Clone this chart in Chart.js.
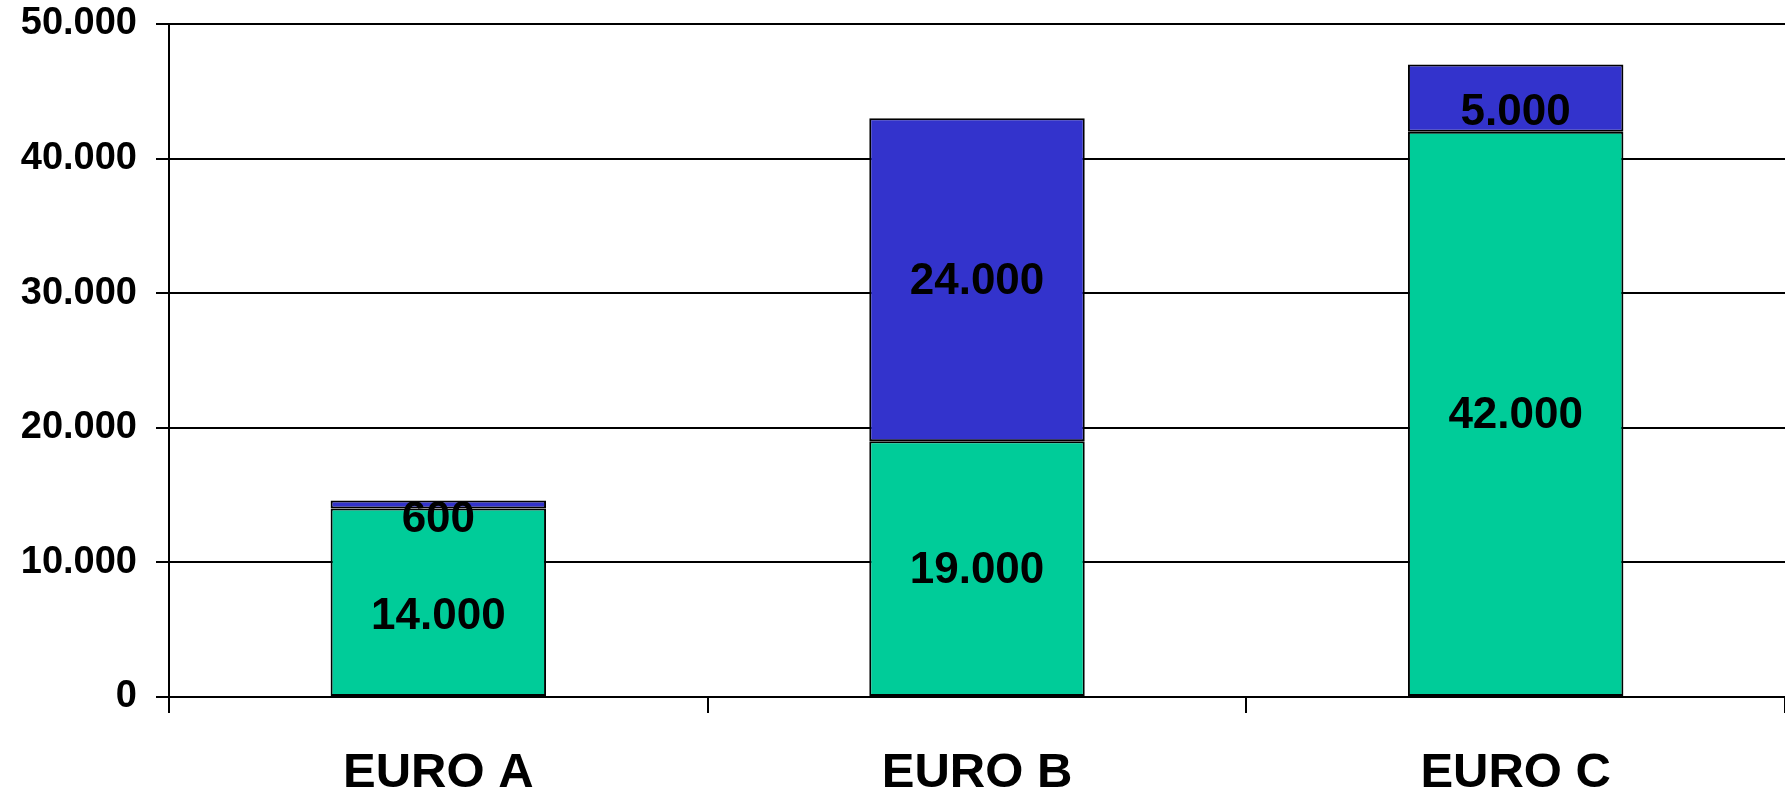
<!DOCTYPE html>
<html lang="de">
<head>
    <meta charset="UTF-8">
    <title>EURO A / B / C</title>
    <script src="https://cdn.jsdelivr.net/npm/chart.js"></script>
    <style>
        body {
            margin: 0;
            background-color: #ffffff;
        }
        canvas {
            display: block;
        }
    </style>
</head>
<body>
    <canvas id="euroChart" width="1785" height="795"></canvas>

    <script>
        // Daten
        const categories = ['EURO A', 'EURO B', 'EURO C'];
        const baseValues = [14000, 19000, 42000];
        const topValues = [600, 24000, 5000];
        const yTicks = [0, 10000, 20000, 30000, 40000, 50000];

        function formatNumber(v) {
            return String(v).replace(/\B(?=(\d{3})+(?!\d))/g, '.');
        }

        // Werte in die Balken schreiben
        const barLabels = {
            id: 'barLabels',
            afterDatasetsDraw(chart) {
                const ctx = chart.ctx;
                ctx.save();
                ctx.font = 'bold 44px "Liberation Sans", Arial, sans-serif';
                ctx.fillStyle = '#000000';
                ctx.textAlign = 'center';
                ctx.textBaseline = 'middle';
                chart.data.datasets.forEach(function(ds, i) {
                    const meta = chart.getDatasetMeta(i);
                    meta.data.forEach(function(bar, j) {
                        const h = bar.base - bar.y;
                        let y = (bar.y + bar.base) / 2;
                        if (h < 200) y += 13;
                        ctx.fillText(formatNumber(ds.data[j]), bar.x, y + 2);
                    });
                });
                ctx.restore();
            }
        };

        const ctx = document.getElementById('euroChart').getContext('2d');
        const chartInstance = new Chart(ctx, {
            type: 'bar',
            data: {
                labels: categories,
                datasets: [{
                    data: baseValues,
                    backgroundColor: '#00CC99',
                    borderColor: '#000000',
                    borderWidth: 2,
                    borderSkipped: false,
                    categoryPercentage: 1,
                    barPercentage: 0.4
                }, {
                    data: topValues,
                    backgroundColor: '#3333CC',
                    borderColor: '#000000',
                    borderWidth: 2,
                    borderSkipped: false,
                    categoryPercentage: 1,
                    barPercentage: 0.4
                }]
            },
            options: {
                responsive: false,
                animation: false,
                layout: {
                    padding: { top: 24, right: 0, left: 0, bottom: 0 }
                },
                plugins: {
                    legend: false,
                    tooltip: { enabled: false }
                },
                scales: {
                    x: {
                        stacked: true,
                        offset: true,
                        afterFit: function(scale) {
                            scale.height = 98;
                            scale.paddingLeft = 0;
                            scale.paddingRight = 0;
                        },
                        grid: {
                            offset: true,
                            drawOnChartArea: false,
                            drawTicks: true,
                            tickLength: 16,
                            color: '#000000',
                            lineWidth: 2
                        },
                        border: { display: true, color: '#000000', width: 2 },
                        ticks: {
                            color: '#000000',
                            padding: 31,
                            font: { family: '"Liberation Sans", Arial, sans-serif', size: 49, weight: 'bold' }
                        }
                    },
                    y: {
                        stacked: true,
                        min: 0,
                        max: 50000,
                        afterFit: function(scale) {
                            scale.width = 169;
                            scale.paddingTop = 0;
                            scale.paddingBottom = 0;
                        },
                        afterBuildTicks: function(scale) {
                            scale.ticks = yTicks.map(function(v) { return { value: v }; });
                        },
                        grid: {
                            color: '#000000',
                            lineWidth: 2,
                            tickLength: 13
                        },
                        border: { display: true, color: '#000000', width: 2 },
                        ticks: {
                            color: '#000000',
                            padding: 19,
                            font: { family: '"Liberation Sans", Arial, sans-serif', size: 38, weight: 'bold' },
                            callback: function(v) { return formatNumber(v); }
                        }
                    }
                }
            },
            plugins: [barLabels]
        });
    </script>
</body>
</html>
